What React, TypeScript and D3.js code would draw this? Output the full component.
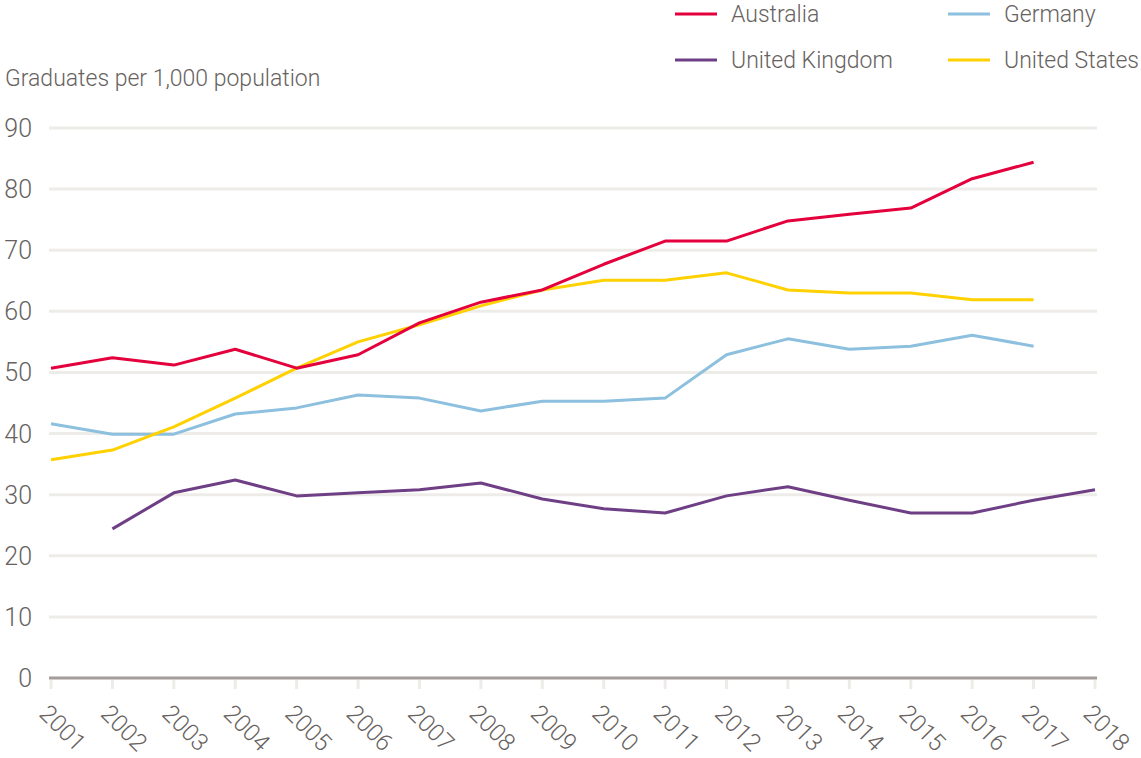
import React from "react";
import * as d3 from "d3";

const years = [2001, 2002, 2003, 2004, 2005, 2006, 2007, 2008, 2009, 2010, 2011, 2012, 2013, 2014, 2015, 2016, 2017, 2018];
const australia = [50.7, 52.4, 51.2, 53.8, 50.7, 52.9, 58.1, 61.5, 63.5, 67.7, 71.5, 71.5, 74.8, 75.9, 76.9, 81.7, 84.4, null];
const germany = [41.6, 39.9, 39.9, 43.2, 44.2, 46.3, 45.8, 43.7, 45.3, 45.3, 45.8, 52.9, 55.5, 53.8, 54.3, 56.1, 54.3, null];
const unitedKingdom = [null, 24.4, 30.3, 32.4, 29.8, 30.3, 30.8, 31.9, 29.3, 27.7, 27.0, 29.8, 31.3, 29.1, 27.0, 27.0, 29.1, 30.8];
const unitedStates = [35.7, 37.3, 41.1, 45.8, 50.7, 55.0, 57.8, 60.9, 63.5, 65.1, 65.1, 66.3, 63.5, 63.0, 63.0, 61.9, 61.9, null];
const yTicks = [0, 10, 20, 30, 40, 50, 60, 70, 80, 90];
const yLabel = "Graduates per 1,000 population";

const series = [
  { name: "Germany", values: germany, color: "#8cc0de" },
  { name: "United Kingdom", values: unitedKingdom, color: "#6f3f86" },
  { name: "United States", values: unitedStates, color: "#ffd100" },
  { name: "Australia", values: australia, color: "#e4003c" },
];
const legendOrder = ["Australia", "Germany", "United Kingdom", "United States"];

const W = 1141, H = 758;
const FONT = "'Roboto', 'Liberation Sans', sans-serif";
const TEXT = "#676260";

export default function App() {
  const x = d3.scaleLinear().domain([2001, 2018]).range([51, 1095]);
  const y = d3.scaleLinear().domain([0, 90]).range([678, 128]);
  const line = d3.line<number | null>()
    .defined((d) => d != null)
    .x((_, i) => x(years[i]))
    .y((d) => y(d as number));

  const legendPos = [
    { lx: 675, ly: 14 },
    { lx: 948, ly: 14 },
    { lx: 675, ly: 60 },
    { lx: 948, ly: 60 },
  ];

  return (
    <svg width={W} height={H} style={{ position: "absolute", left: 0, top: 0 }} fontFamily={FONT}>
      <text x={5} y={86} fontSize={23} fill={TEXT} fontWeight={300}>{yLabel}</text>
      {yTicks.filter((t) => t > 0).map((t) => (
        <line key={t} x1={49} x2={1097} y1={y(t)} y2={y(t)} stroke="#eeece8" strokeWidth={3} />
      ))}
      {years.map((yr) => (
        <line key={yr} x1={x(yr)} x2={x(yr)} y1={680} y2={689} stroke="#eeece8" strokeWidth={3} />
      ))}
      <line x1={49} x2={1097} y1={y(0)} y2={y(0)} stroke="#a39c9a" strokeWidth={3} />
      {yTicks.map((t) => (
        <text key={t} x={32} y={y(t)} dy="0.36em" textAnchor="end" fontSize={25} fill={TEXT} fontWeight={300}>{t}</text>
      ))}
      {years.map((yr) => (
        <text key={yr} transform={`translate(${x(yr) - 13},${715}) rotate(45)`} fontSize={24} fill={TEXT} fontWeight={300}>{yr}</text>
      ))}
      {series.map((s) => (
        <path key={s.name} d={line(s.values) || ""} fill="none" stroke={s.color} strokeWidth={3} strokeLinejoin="round" />
      ))}
      {legendOrder.map((name, i) => {
        const s = series.find((d) => d.name === name)!;
        const p = legendPos[i];
        return (
          <g key={name}>
            <line x1={p.lx} x2={p.lx + 42} y1={p.ly} y2={p.ly} stroke={s.color} strokeWidth={3} />
            <text x={p.lx + 56} y={p.ly} dy="0.35em" fontSize={23} fill={TEXT} fontWeight={300}>{name}</text>
          </g>
        );
      })}
    </svg>
  );
}
